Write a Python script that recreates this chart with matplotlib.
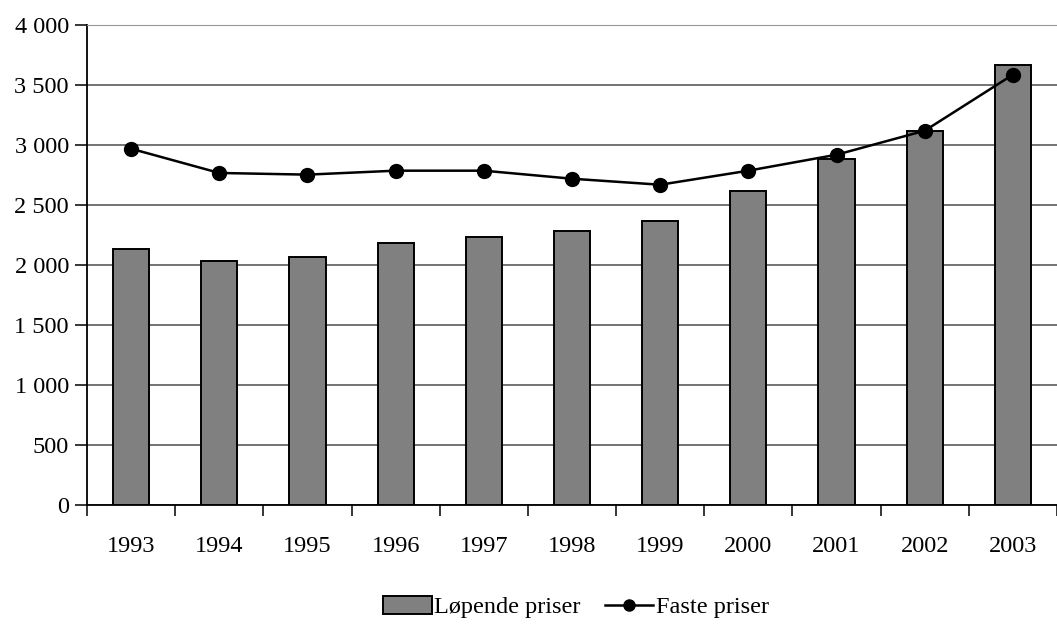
import numpy as np
import matplotlib.pyplot as plt
from matplotlib.ticker import FuncFormatter, FixedLocator

plt.rcParams['font.family'] = ['Liberation Serif', 'DejaVu Serif']

# Data
years = ['1993', '1994', '1995', '1996', '1997', '1998', '1999', '2000', '2001', '2002', '2003']
lopende = [2136, 2036, 2069, 2186, 2233, 2286, 2369, 2619, 2886, 3119, 3669]
faste = [2969, 2767, 2753, 2786, 2786, 2719, 2669, 2786, 2919, 3119, 3586]

fig = plt.figure(figsize=(10.57, 6.24), dpi=100)
ax = fig.add_axes([87 / 1057, 1 - 505 / 624, 970 / 1057, 480 / 624])

x = np.arange(len(years))
bars = ax.bar(x, lopende, width=0.41, color='#808080', edgecolor='black', linewidth=1.4,
              label='Løpende priser', zorder=2)
line, = ax.plot(x, faste, color='black', linewidth=1.8, marker='o', markersize=10,
                label='Faste priser', zorder=3)

ax.set_xlim(-0.5, len(years) - 0.5)
ax.set_ylim(0, 4000)
ax.set_yticks(np.arange(0, 4001, 500))
ax.yaxis.set_major_formatter(FuncFormatter(lambda v, p: f'{int(v):,}'.replace(',', ' ')))
ax.yaxis.grid(True, color='#4d4d4d', linewidth=1.1, zorder=0)
ax.set_axisbelow(True)

# ticks at category boundaries, labels centered
ax.xaxis.set_major_locator(FixedLocator(np.arange(-0.5, len(years), 1.0)))
ax.xaxis.set_major_formatter(FuncFormatter(lambda v, p: ''))
ax.xaxis.set_minor_locator(FixedLocator(x))
ax.set_xticklabels(years, minor=True)
ax.tick_params(axis='x', which='major', direction='out', length=8, width=1.1, color='black')
ax.tick_params(axis='x', which='minor', length=0, pad=22, labelsize=17.5)
ax.tick_params(axis='y', direction='out', length=9, width=1.1, pad=4, labelsize=17.5)

ax.spines['right'].set_visible(False)
ax.spines['top'].set_color('#999999')
ax.spines['left'].set_linewidth(1.3)
ax.spines['bottom'].set_linewidth(1.3)

leg = fig.legend([bars, line], ['Løpende priser', 'Faste priser'],
                 loc='center', bbox_to_anchor=(576 / 1057, 1 - 607 / 624), ncol=2, frameon=False,
                 fontsize=17.5, handlelength=2.0, handleheight=0.8, handletextpad=0.1,
                 columnspacing=1.0, markerscale=0.8, borderaxespad=0)

fig.savefig('out.png', dpi=100)
